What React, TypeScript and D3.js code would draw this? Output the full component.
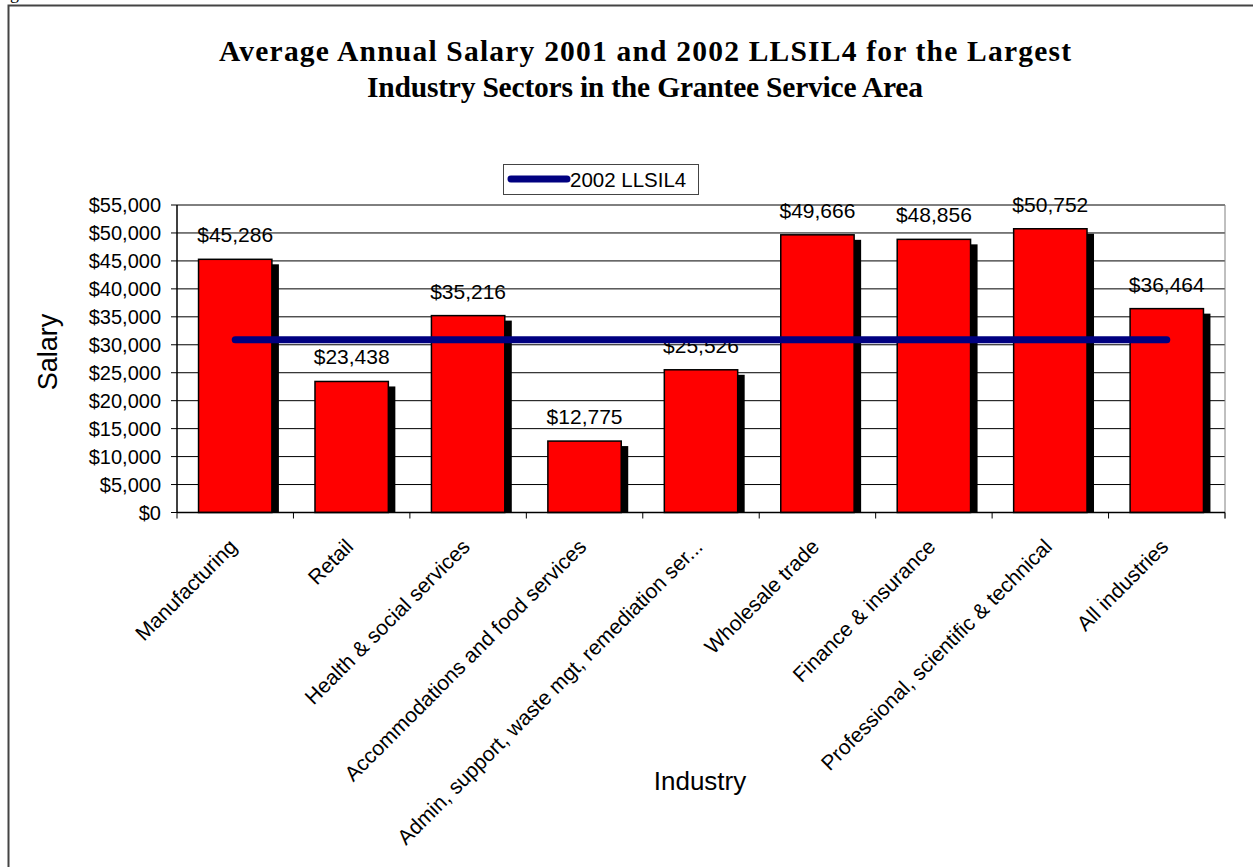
import * as d3 from 'd3'

const categories = [
  'Manufacturing',
  'Retail',
  'Health & social services',
  'Accommodations and food services',
  'Admin, support, waste mgt, remediation ser...',
  'Wholesale trade',
  'Finance & insurance',
  'Professional, scientific & technical',
  'All industries',
]
const salaries = [45286, 23438, 35216, 12775, 25526, 49666, 48856, 50752, 36464]
const llsil4 = [30900, 30900, 30900, 30900, 30900, 30900, 30900, 30900, 30900]
const yTicks = [0, 5000, 10000, 15000, 20000, 25000, 30000, 35000, 40000, 45000, 50000, 55000]
const titleLines = [
  'Average Annual Salary 2001 and 2002 LLSIL4 for the Largest',
  'Industry Sectors in the Grantee Service Area',
]

const W = 1253
const H = 867
const plot = { left: 177, right: 1225, top: 205, bottom: 512.5 }
const titleWidths = [852, 556]
const sans = "Arial, 'Liberation Sans', sans-serif"
const serif = "'Times New Roman', 'Liberation Serif', serif"

export default function App() {
  const x = d3.scaleBand<string>()
    .domain(categories)
    .range([plot.left, plot.right])
    .paddingInner(0.37)
    .paddingOuter(0.185)
  const y = d3.scaleLinear().domain([0, 55000]).range([plot.bottom, plot.top])
  const step = x.step()
  const money = (v: number) => '$' + d3.format(',')(v)
  const cx = (c: string) => (x(c) || 0) + x.bandwidth() / 2

  const line = d3.line<number>()
    .x((_, i) => cx(categories[i]))
    .y(d => y(d))

  return (
    <svg width={W} height={H} style={{ position: 'absolute', left: 0, top: 0, background: '#fff' }}>
      {/* page frame */}
      <rect x={8.5} y={5.5} width={W + 20} height={H + 20} fill="none" stroke="#444" strokeWidth={2} />
      <text x={10} y={-1} fontFamily={serif} fontSize={18}>g</text>

      {/* title */}
      {titleLines.map((t, i) => (
        <text key={i} x={645} y={61 + i * 36} textAnchor="middle" fontFamily={serif}
          fontWeight="bold" fontSize={29.5} textLength={titleWidths[i]} lengthAdjust="spacing">{t}</text>
      ))}

      {/* legend */}
      <rect x={503.5} y={164.5} width={195} height={30} fill="#fff" stroke="#444" strokeWidth={1} />
      <line x1={511} x2={567} y1={179} y2={179} stroke="#000080" strokeWidth={7} strokeLinecap="round" />
      <text x={570} y={186.5} fontFamily={sans} fontSize={20.5}>2002 LLSIL4</text>

      {/* gridlines */}
      {yTicks.map(t => (
        <line key={t} x1={plot.left - 6} x2={plot.right} y1={y(t)} y2={y(t)} stroke="#000" strokeWidth={1} />
      ))}
      <line x1={plot.right} x2={plot.right} y1={plot.top} y2={plot.bottom + 6} stroke="#808080" strokeWidth={1} />

      {/* y tick labels */}
      {yTicks.map(t => (
        <text key={t} x={161} y={y(t)} dy="0.36em" textAnchor="end" fontFamily={sans} fontSize={20}>
          {money(t)}
        </text>
      ))}

      {/* bars */}
      {categories.map((c, i) => {
        const bx = x(c) || 0
        const top = y(salaries[i])
        return (
          <g key={c}>
            <rect x={bx + 7} y={top + 5} width={x.bandwidth()} height={plot.bottom - top - 5} fill="#000" />
            <rect x={bx} y={top} width={x.bandwidth()} height={plot.bottom - top}
              fill="#ff0000" stroke="#000" strokeWidth={1.5} />
            <text x={cx(c)} y={top - 17} textAnchor="middle" fontFamily={sans} fontSize={21}>
              {money(salaries[i])}
            </text>
          </g>
        )
      })}

      {/* axes */}
      <line x1={plot.left} x2={plot.left} y1={plot.top} y2={plot.bottom} stroke="#000" strokeWidth={1.5} />
      <line x1={plot.left} x2={plot.right} y1={plot.bottom} y2={plot.bottom} stroke="#000" strokeWidth={1.5} />
      {d3.range(categories.length + 1).map(i => (
        <line key={i} x1={plot.left + i * step} x2={plot.left + i * step} y1={plot.bottom} y2={plot.bottom + 6}
          stroke="#000" strokeWidth={1} />
      ))}

      {/* LLSIL4 line */}
      <path d={line(llsil4) || ''} fill="none" stroke="#000080" strokeWidth={7} strokeLinecap="round" />

      {/* x labels */}
      {categories.map(c => (
        <text key={c} transform={`translate(${cx(c) + 3},548) rotate(-45)`} textAnchor="end"
          fontFamily={sans} fontSize={21}>{c}</text>
      ))}

      {/* axis titles */}
      <text transform="translate(57,352) rotate(-90)" textAnchor="middle" fontFamily={sans} fontSize={27}>Salary</text>
      <text x={700} y={790} textAnchor="middle" fontFamily={sans} fontSize={26}>Industry</text>
    </svg>
  )
}
